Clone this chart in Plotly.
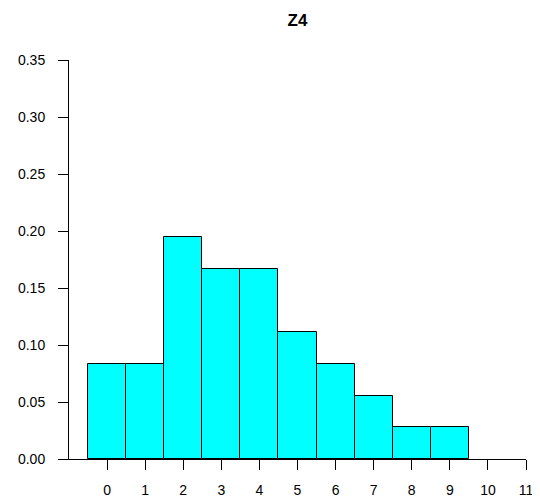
import plotly.graph_objects as go

values = [0, 1, 2, 3, 4, 5, 6, 7, 8, 9]
density = [3/36, 3/36, 7/36, 6/36, 6/36, 4/36, 3/36, 2/36, 1/36, 1/36]
x_ticks = list(range(0, 12))
y_ticks = [0.00, 0.05, 0.10, 0.15, 0.20, 0.25, 0.30, 0.35]
y_tick_labels = [f"{v:.2f}" for v in y_ticks]

fig = go.Figure(go.Bar(
    x=values, y=density, width=1,
    marker=dict(color="#00FFFF", line=dict(color="black", width=1)),
    hoverinfo="x+y",
))

# the page body has an 8px margin, so the figure is sized 532x494
font = "Liberation Sans, Arial, Helvetica, sans-serif"
fig.update_layout(
    width=532, height=494,
    margin=dict(l=61, r=14, t=52, b=43, pad=0, autoexpand=False),
    plot_bgcolor="white", paper_bgcolor="white",
    showlegend=False, bargap=0,
    font=dict(family=font, size=14, color="black"),
    title=dict(text="<b>Z4</b>", x=0.5, xref="paper", xanchor="center",
               y=1 - 12/494, yref="container", yanchor="middle",
               automargin=False,
               font=dict(family=font, size=17, color="black")),
)
fig.update_xaxes(
    range=[-1, 11], tickvals=x_ticks, ticktext=[str(t) for t in x_ticks],
    showline=True, linecolor="black", linewidth=1, automargin=False,
    ticks="outside", ticklen=10, tickcolor="black", tickwidth=1,
    showgrid=False, zeroline=False, ticklabelstandoff=8,
    tickfont=dict(size=14),
)
fig.update_yaxes(
    range=[0, 0.35], tickvals=y_ticks, ticktext=y_tick_labels,
    showline=True, linecolor="black", linewidth=1, automargin=False,
    ticks="outside", ticklen=10, tickcolor="black", tickwidth=1,
    showgrid=False, zeroline=False, ticklabelstandoff=10,
    tickfont=dict(size=14),
)

fig.write_html("out.html")
